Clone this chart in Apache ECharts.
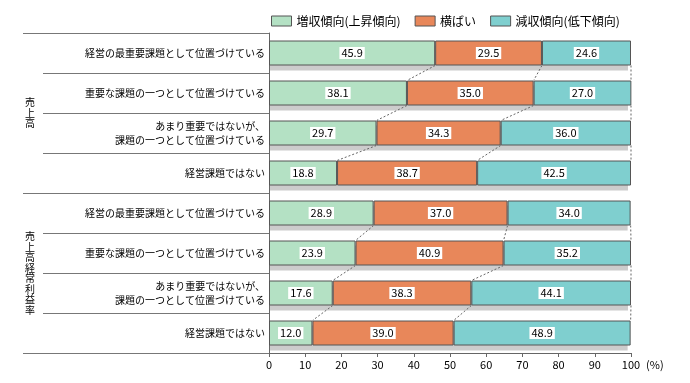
<!DOCTYPE html>
<html>
<head>
<meta charset="utf-8">
<script src="https://cdn.jsdelivr.net/npm/echarts@6/dist/echarts.min.js"></script>
<style>html,body{margin:0;padding:0;background:#fff;}#c{width:690px;height:383px;}</style>
</head>
<body>
<div id="c"></div>
<script>
const categories = [
  '経営の最重要課題として位置づけている',
  '重要な課題の一つとして位置づけている',
  'あまり重要ではないが、\n課題の一つとして位置づけている',
  '経営課題ではない',
  '経営の最重要課題として位置づけている',
  '重要な課題の一つとして位置づけている',
  'あまり重要ではないが、\n課題の一つとして位置づけている',
  '経営課題ではない'
];
const groups = ['売\n上\n高', '売\n上\n高\n経\n常\n利\n益\n率'];
const seriesNames = ['増収傾向(上昇傾向)', '横ばい', '減収傾向(低下傾向)'];
const increase = [45.9, 38.1, 29.7, 18.8, 28.9, 23.9, 17.6, 12.0];
const flat     = [29.5, 35.0, 34.3, 38.7, 37.0, 40.9, 38.3, 39.0];
const decrease = [24.6, 27.0, 36.0, 42.5, 34.0, 35.2, 44.1, 48.9];
const xTicks = [0, 10, 20, 30, 40, 50, 60, 70, 80, 90, 100];
// pairs of adjacent rows (within each group) joined by dashed lines
const connectPairs = [[0, 1], [1, 2], [2, 3], [4, 5], [5, 6], [6, 7]];

const FONT = '"Noto Sans CJK JP", sans-serif';
const colors = ['#B4E1C4', '#E8875A', '#7FCFCF'];
const BAR_W = 25;

const chart = echarts.init(document.getElementById('c'), null, {renderer: 'canvas'});

function cums(i) {
  const total = Math.min(100, increase[i] + flat[i] + decrease[i]);
  return [increase[i], increase[i] + flat[i], total];
}

const barStyle = (c) => ({
  color: c,
  borderColor: '#555',
  borderWidth: 1
});

const labelCfg = {
  show: true,
  position: 'inside',
  color: '#000',
  fontSize: 11,
  fontFamily: FONT,
  backgroundColor: '#fff',
  padding: [0, 2, 0, 2],
  lineHeight: 12,
  formatter: (p) => Number(p.value).toFixed(1)
};

const dataSets = [increase, flat, decrease];
const rowIdx = categories.map((c, i) => i);

const option = {
  animation: false,
  backgroundColor: '#fff',
  textStyle: {fontFamily: FONT},
  legend: {
    top: 10,
    left: 266,
    itemWidth: 20,
    itemHeight: 10,
    itemGap: 14,
    icon: 'rect',
    data: seriesNames,
    textStyle: {fontSize: 12, color: '#000', fontFamily: FONT},
    itemStyle: {borderColor: '#555', borderWidth: 1}
  },
  grid: {left: 269, right: 59, top: 33, bottom: 30},
  xAxis: {
    type: 'value',
    min: 0,
    max: 100,
    interval: 10,
    splitLine: {show: false},
    axisLine: {show: true, lineStyle: {color: '#666'}},
    axisTick: {show: true, length: 4, lineStyle: {color: '#666'}},
    axisLabel: {color: '#000', fontSize: 11, fontFamily: FONT, margin: 6,
      formatter: (v) => xTicks.indexOf(v) >= 0 ? String(v) : ''},
    name: '(%)',
    nameLocation: 'end',
    nameGap: 14,
    nameTextStyle: {color: '#000', fontSize: 11, fontFamily: FONT, verticalAlign: 'top', padding: [6, 0, 0, 0]}
  },
  yAxis: [
    {
      type: 'category',
      inverse: true,
      data: categories,
      axisLine: {show: true, lineStyle: {color: '#666'}},
      axisTick: {show: true, length: 226, alignWithLabel: false, lineStyle: {color: '#777'}},
      axisLabel: {color: '#000', fontSize: 10, fontFamily: FONT, margin: 4, lineHeight: 14, align: 'right'},
      splitLine: {show: false}
    },
    {
      type: 'category',
      inverse: true,
      position: 'left',
      data: groups,
      axisLine: {show: false},
      axisTick: {show: true, length: 246, alignWithLabel: false, lineStyle: {color: '#777'}},
      axisLabel: {color: '#000', fontSize: 10, fontFamily: FONT, margin: 239, lineHeight: 10.5, align: 'center'},
      splitLine: {show: false}
    }
  ],
  series: [
    {
      // gray drop shadow under each stacked bar
      type: 'custom',
      yAxisIndex: 0,
      silent: true,
      z: 1,
      encode: {x: 0, y: 1},
      data: rowIdx.map(i => [0, i]),
      renderItem: function (params, api) {
        const r = api.value(1);
        const c = cums(r);
        const p0 = api.coord([0, r]);
        const p1 = api.coord([c[2], r]);
        const half = BAR_W / 2;
        return {
          type: 'rect',
          shape: {x: p0[0] + 1, y: p0[1] - half + 5, width: p1[0] - p0[0] - 4, height: BAR_W},
          style: {fill: '#cccccc'}
        };
      }
    },
    ...seriesNames.map((name, k) => ({
      name: name,
      type: 'bar',
      stack: 'total',
      yAxisIndex: 0,
      barWidth: BAR_W,
      z: 2,
      data: dataSets[k],
      itemStyle: barStyle(colors[k]),
      label: labelCfg,
      emphasis: {disabled: true}
    })),
    {
      type: 'custom',
      yAxisIndex: 0,
      silent: true,
      z: 1,
      encode: {x: 0, y: 1},
      data: connectPairs.map(p => [0, p[0], p[1]]),
      renderItem: function (params, api) {
        const a = api.value(1), b = api.value(2);
        const ca = cums(a), cb = cums(b);
        const half = BAR_W / 2;
        const children = ca.map((v, k) => {
          const p1 = api.coord([v, a]);
          const p2 = api.coord([cb[k], b]);
          return {
            type: 'line',
            shape: {x1: p1[0], y1: p1[1] + half + (k === 2 ? 0 : 0), x2: p2[0], y2: p2[1] - half},
            style: {stroke: '#666', lineWidth: 1, lineDash: [2, 2]}
          };
        });
        return {type: 'group', children: children};
      }
    }
  ]
};
chart.setOption(option);
</script>
</body>
</html>
